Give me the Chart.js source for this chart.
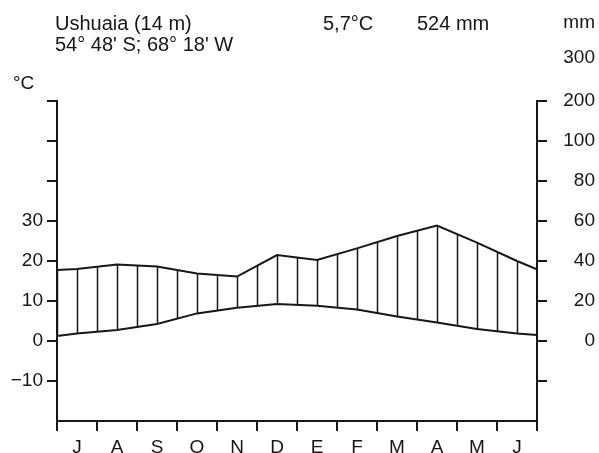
<!DOCTYPE html>
<html>
<head>
<meta charset="utf-8">
<script src="https://cdn.jsdelivr.net/npm/chart.js@4"></script>
<style>
  html, body { margin: 0; padding: 0; background: #fff; }
  #wrap { width: 599px; height: 453px; position: relative; }
</style>
</head>
<body>
<div id="wrap"><canvas id="c"></canvas></div>
<script>
// Walter-Lieth climate diagram, Ushuaia. Southern hemisphere: starts in July.
const MONTHS = ["J", "A", "S", "O", "N", "D", "E", "F", "M", "A", "M", "J"];
// monthly means, °C and mm, read at the month midpoints
const TEMP   = [1.9, 2.75, 4.25, 6.9, 8.3, 9.25, 8.8, 7.9, 6.1, 4.6, 3.0, 1.9];
const PRECIP = [36, 38.3, 37.2, 33.8, 32.2, 43, 40.5, 46.3, 52.5, 57.7, 49.2, 40];
// curve values where they meet the left / right axis
const TEMP_EDGES   = [1.25, 1.5];
const PRECIP_EDGES = [35.5, 35.8];
// axis labels
const TEMP_LABELS   = [-10, 0, 10, 20, 30];
const PRECIP_LABELS = [0, 20, 40, 60, 80, 100];
const PRECIP_TOP_LABELS = ["200", "300"];

const INK = "#161616";
const FONT = "Liberation Sans, Arial, sans-serif";
const FS = 19;

function series(vals, edges) {
  return [
    { x: 0, y: edges[0] },
    ...vals.map((v, i) => ({ x: i + 0.5, y: v })),
    { x: 12, y: edges[1] },
  ];
}

// vertical hatching for the humid period
function hatch(ctx) {
  const tile = document.createElement("canvas");
  tile.width = 20; tile.height = 20;
  const t = tile.getContext("2d");
  t.strokeStyle = INK;
  t.lineWidth = 1.5;
  t.beginPath(); t.moveTo(17.5, 0); t.lineTo(17.5, 20); t.stroke();
  return ctx.createPattern(tile, "repeat");
}

const hideCorner = (min) => (c) => (c.tick && c.tick.value === min ? "rgba(0,0,0,0)" : INK);

const texts = {
  id: "texts",
  afterDraw(chart) {
    const ctx = chart.ctx;
    const y2 = chart.scales.y2;
    ctx.save();
    ctx.fillStyle = INK;
    ctx.font = `20px ${FONT}`;
    ctx.textBaseline = "alphabetic";
    ctx.textAlign = "left";
    ctx.fillText("Ushuaia (14 m)", 55, 30);
    ctx.fillText("54° 48' S; 68° 18' W", 55, 51);
    ctx.fillText("5,7°C", 323, 30);
    ctx.fillText("524 mm", 417, 30);
    ctx.font = `${FS}px ${FONT}`;
    ctx.fillText("°C", 13, 89);
    ctx.textAlign = "right";
    ctx.fillText("mm", 595, 28);
    ctx.textBaseline = "middle";
    ctx.fillText(PRECIP_TOP_LABELS[1], 595, y2.getPixelForValue(140) - 3);
    ctx.restore();
  },
};

const canvas = document.getElementById("c");
const c2d = canvas.getContext("2d");

new Chart(canvas, {
  type: "line",
  data: {
    labels: MONTHS,
    datasets: [
      {
        label: "Temperatur",
        data: series(TEMP, TEMP_EDGES),
        xAxisID: "xl",
        yAxisID: "y",
        borderColor: INK,
        borderWidth: 2,
        pointRadius: 0,
        tension: 0,
        fill: false,
      },
      {
        label: "Niederschlag",
        data: series(PRECIP, PRECIP_EDGES),
        xAxisID: "xl",
        yAxisID: "y2",
        borderColor: INK,
        borderWidth: 2,
        pointRadius: 0,
        tension: 0,
        fill: { target: 0 },
        backgroundColor: hatch(c2d),
      },
    ],
  },
  options: {
    responsive: true,
    maintainAspectRatio: false,
    animation: false,
    layout: { padding: { top: 101, left: 0, right: 4, bottom: 0 } },
    plugins: { legend: { display: false }, tooltip: { enabled: false } },
    scales: {
      x: {
        type: "category",
        position: "bottom",
        offset: true,
        grid: { offset: true, drawOnChartArea: false, tickLength: 10, color: INK, lineWidth: 2 },
        border: { color: INK, width: 2 },
        ticks: { color: INK, font: { family: FONT, size: FS }, padding: 5, maxRotation: 0, autoSkip: false },
        afterFit: (s) => { s.height = 32; },
      },
      xl: { type: "linear", min: 0, max: 12, display: false },
      y: {
        position: "left",
        min: -20,
        max: 60,
        ticks: {
          stepSize: 10,
          color: INK,
          font: { family: FONT, size: FS },
          padding: 4,
          callback: (v) => (TEMP_LABELS.includes(v) ? (v < 0 ? "\u2212" + Math.abs(v) : String(v)) : ""),
        },
        grid: { drawOnChartArea: false, tickLength: 10, lineWidth: 2, color: hideCorner(-20) },
        border: { color: INK, width: 2 },
        afterFit: (s) => { s.width = 57; },
      },
      y2: {
        position: "right",
        min: -40,
        max: 120,
        ticks: {
          stepSize: 20,
          color: INK,
          font: { family: FONT, size: FS },
          padding: 16,
          crossAlign: "far",
          callback: (v) => (v === 120 ? PRECIP_TOP_LABELS[0] : PRECIP_LABELS.includes(v) ? String(v) : ""),
        },
        grid: { drawOnChartArea: false, tickLength: 10, lineWidth: 2, color: hideCorner(-40) },
        border: { color: INK, width: 2 },
        afterFit: (s) => { s.width = 58; },
      },
    },
  },
  plugins: [texts],
});
</script>
</body>
</html>
